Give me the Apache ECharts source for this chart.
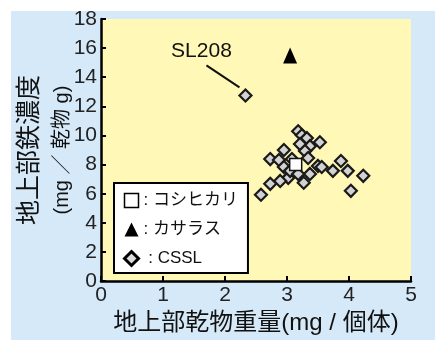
<!DOCTYPE html>
<html><head><meta charset="utf-8">
<script src="https://cdn.jsdelivr.net/npm/echarts@6/dist/echarts.min.js"></script>
<style>
html,body{margin:0;padding:0;background:#fff;}
#bg{position:absolute;left:11px;top:11px;width:424px;height:329px;background:#d6e9f8;}
#c{position:absolute;left:0;top:0;width:435px;height:340px;}
</style>
</head><body><div id="bg"></div><div id="c"></div>
<script>
const seriesNames = ['コシヒカリ', 'カサラス', 'CSSL'];
const koshihikariX = [3.14];
const koshihikariY = [8.0];
const kasalathX = [3.05];
const kasalathY = [15.5];
const csslX = [3.18,3.24,3.32,3.53,3.37,3.21,3.29,2.95,2.73,2.87,3.34,3.50,3.56,3.74,3.87,3.98,4.23,4.03,3.37,3.27,3.02,2.89,2.73,2.58,2.95,3.05,3.18,3.08];
const csslY = [10.29,10.02,9.82,9.54,9.27,9.41,8.93,9.0,8.38,8.32,8.45,7.91,7.84,7.57,8.25,7.57,7.23,6.20,7.36,6.75,7.09,6.88,6.68,5.93,7.84,7.57,7.36,8.38];
const sl208Name = 'SL208';
const sl208X = 2.33;
const sl208Y = 12.75;
const xMin = 0, xMax = 5, xStep = 1;
const yMin = 0, yMax = 18, yStep = 2;
const xTitle = '地上部乾物重量(mg / 個体)';
const yTitle1 = '地上部鉄濃度';
const yTitle2 = '(mg ／ 乾物 g)';

const FONT = '"Liberation Sans", "Noto Sans CJK JP", sans-serif';
const zip = (xs, ys) => xs.map((x, i) => [x, ys[i]]);

const chart = echarts.init(document.getElementById('c'), null, {renderer: 'canvas'});
const option = {
  backgroundColor: 'transparent',
  animation: false,
  textStyle: {fontFamily: FONT},
  grid: {left: 101, right: 24, top: 19, bottom: 57, show: true, backgroundColor: '#fff8b6', borderWidth: 0},
  xAxis: {
    type: 'value', min: xMin, max: xMax, interval: xStep,
    name: xTitle, nameLocation: 'middle', nameGap: 27,
    nameTextStyle: {fontSize: 24, color: '#111', fontFamily: FONT},
    axisLine: {show: true, lineStyle: {color: '#000', width: 2.5}},
    axisTick: {show: true, inside: true, length: 5, lineStyle: {color: '#000', width: 2}},
    axisLabel: {fontSize: 21, color: '#222', margin: 4, fontFamily: FONT},
    splitLine: {show: false}
  },
  yAxis: {
    type: 'value', min: yMin, max: yMax, interval: yStep,
    name: '{a|' + yTitle1 + '}\n{b|' + yTitle2 + '}',
    nameLocation: 'middle', nameRotate: 90, nameGap: 23, nameMoveOverlap: false,
    nameTextStyle: {
      color: '#111', fontFamily: FONT,
      rich: {
        a: {fontSize: 25, lineHeight: 32, color: '#111', fontFamily: FONT},
        b: {fontSize: 20, lineHeight: 32, color: '#111', fontFamily: FONT}
      }
    },
    axisLine: {show: true, lineStyle: {color: '#000', width: 2.5}},
    axisTick: {show: true, inside: true, length: 5, lineStyle: {color: '#000', width: 2}},
    axisLabel: {fontSize: 21, color: '#222', margin: 4, fontFamily: FONT},
    splitLine: {show: false}
  },
  legend: {
    orient: 'vertical', left: 114, top: 183,
    backgroundColor: '#fff', borderColor: '#000', borderWidth: 2,
    padding: [9, 10, 6, 9], itemGap: 12, itemWidth: 14, itemHeight: 14,
    textStyle: {fontSize: 17, color: '#111', fontFamily: FONT},
    formatter: n => (n === 'CSSL' ? ' : ' : ': ') + n,
    data: [
      {name: seriesNames[0], icon: 'rect', itemStyle: {color: '#fff', borderColor: '#000', borderWidth: 1.5}},
      {name: seriesNames[1], icon: 'triangle', itemStyle: {color: '#000', borderWidth: 0}},
      {name: seriesNames[2], icon: 'diamond', itemStyle: {color: '#ddd', borderColor: '#000', borderWidth: 3}}
    ]
  },
  series: [
    {
      name: seriesNames[2], type: 'scatter', symbol: 'diamond', symbolSize: 12, z: 2,
      itemStyle: {color: '#d2d2d2', borderColor: '#1a1a1a', borderWidth: 2.2, opacity: 1},
      data: zip(csslX, csslY).concat([[sl208X, sl208Y]])
    },
    {
      name: seriesNames[0], type: 'scatter', symbol: 'rect', symbolSize: 12, z: 3,
      itemStyle: {color: '#fff', borderColor: '#111', borderWidth: 1.5, opacity: 1},
      data: zip(koshihikariX, koshihikariY)
    },
    {
      name: seriesNames[1], type: 'scatter', symbol: 'triangle', symbolSize: [14, 16], z: 3,
      itemStyle: {color: '#000', opacity: 1},
      data: zip(kasalathX, kasalathY)
    }
  ]
};
chart.setOption(option);
const p = chart.convertToPixel({seriesIndex: 0}, [sl208X, sl208Y]);
chart.setOption({
  graphic: [
    {type: 'line', z: 10, shape: {x1: p[0] - 39, y1: p[1] - 30, x2: p[0] - 6, y2: p[1] - 8}, style: {stroke: '#111', lineWidth: 2}},
    {type: 'text', z: 10, x: p[0] - 44, y: p[1] - 44, style: {text: sl208Name, fontSize: 21, fill: '#111', fontFamily: FONT, align: 'center', verticalAlign: 'middle'}}
  ]
});
</script>
</body></html>
